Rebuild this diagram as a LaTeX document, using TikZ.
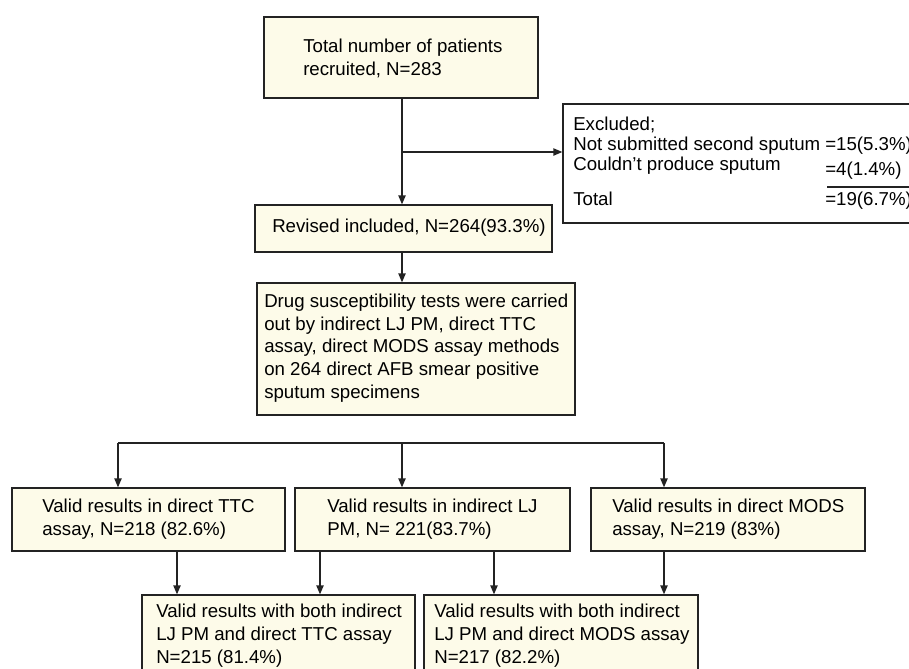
\documentclass[tikz,border=0pt]{standalone}
\usepackage{fontspec}
\setmainfont{Liberation Sans}
\usetikzlibrary{arrows.meta}
\definecolor{boxfill}{RGB}{253,251,233}
\definecolor{linec}{RGB}{35,35,35}
\begin{document}
\begin{tikzpicture}[x=0.75pt,y=-0.75pt,
  box/.style={draw=linec, line width=1pt, fill=boxfill, rectangle, inner sep=0pt},
  txt/.style={anchor=base west, inner sep=0pt, align=left, font=\fontsize{14}{16.9}\selectfont, text=black},
  arr/.style={draw=linec, line width=1pt, -{Triangle[length=6.75pt,width=5.5pt]}},
  ln/.style={draw=linec, line width=1pt}]
\path[use as bounding box] (0,0) rectangle (909,668);
\clip (0,0) rectangle (909,668);
% boxes
\node[box, minimum width=274*0.75pt, minimum height=81*0.75pt] (top) at (401,57.5) {};
\node[box, fill=white, minimum width=352*0.75pt, minimum height=119*0.75pt] (excl) at (739,163.5) {};
\node[box, minimum width=297*0.75pt, minimum height=47*0.75pt] (rev) at (403.5,228.5) {};
\node[box, minimum width=318*0.75pt, minimum height=132*0.75pt] (drug) at (416,349) {};
\node[box, minimum width=273*0.75pt, minimum height=63*0.75pt] (b1) at (148.5,519.5) {};
\node[box, minimum width=275*0.75pt, minimum height=63*0.75pt] (b2) at (432.5,519.5) {};
\node[box, minimum width=274*0.75pt, minimum height=63*0.75pt] (b3) at (728,519.5) {};
\node[box, minimum width=273*0.75pt, minimum height=80*0.75pt] (ba) at (278.5,635) {};
\node[box, minimum width=274*0.75pt, minimum height=80*0.75pt] (bb) at (561,635) {};
% texts (base anchor = baseline of the last line)
\node[txt] (ttop) at (303,75.2) {Total number of patients\\recruited, N=283};
\node[txt] (texc1) at (573,130) {Excluded;};
\node[txt] (texc2) at (573,150) {Not submitted second sputum};
\node[txt] (texc3) at (573,170) {Couldn’t produce sputum};
\node[txt] (texc4) at (573,205) {Total};
\node[txt] (nexc2) at (825,150) {=15(5.3\%)};
\node[txt] (nexc3) at (825,175) {=4(1.4\%)};
\node[txt] (nexc4) at (825,205) {=19(6.7\%)};
\coordinate (ol1) at (827,187);
\coordinate (ol2) at (912,187);
\draw[ln] (ol1) -- (ol2);
\node[txt] (trev) at (272,232) {Revised included, N=264(93.3\%)};
\node[txt] (tdrug) at (264,398) {Drug susceptibility tests were carried\\out by indirect LJ PM, direct TTC\\assay, direct MODS assay methods\\on 264 direct AFB smear positive\\sputum specimens};
\node[txt] (tb1) at (42,535.5) {Valid results in direct TTC\\assay, N=218 (82.6\%)};
\node[txt] (tb2) at (327,535.5) {Valid results in indirect LJ\\PM, N= 221(83.7\%)};
\node[txt] (tb3) at (612,535.5) {Valid results in direct MODS\\assay, N=219 (83\%)};
\node[txt] (tba) at (156,663) {Valid results with both indirect\\LJ PM and direct TTC assay\\N=215 (81.4\%)};
\node[txt] (tbb) at (434,663) {Valid results with both indirect\\LJ PM and direct MODS assay\\N=217 (82.2\%)};
% connectors
\coordinate (mx) at (402,0);
\draw[arr] (top.south -| mx) -- (rev.north -| mx);
\coordinate (br) at (402,152);
\draw[arr] (br) -- (br -| excl.west);
\draw[arr] (rev.south -| mx) -- (drug.north -| mx);
\coordinate (hl) at (118,443);
\coordinate (hm) at (402,443);
\coordinate (hr) at (664,443);
\draw[ln] (hl) -- (hr);
\draw[arr] (hl) -- (hl |- b1.north);
\draw[arr] (hm) -- (hm |- b2.north);
\draw[arr] (hr) -- (hr |- b3.north);
\coordinate (d1) at (177,0);
\coordinate (d2) at (320,0);
\coordinate (d3) at (494,0);
\coordinate (d4) at (664,0);
\draw[arr] (b1.south -| d1) -- (ba.north -| d1);
\draw[arr] (b2.south -| d2) -- (ba.north -| d2);
\draw[arr] (b2.south -| d3) -- (bb.north -| d3);
\draw[arr] (b3.south -| d4) -- (bb.north -| d4);
\end{tikzpicture}
\end{document}
